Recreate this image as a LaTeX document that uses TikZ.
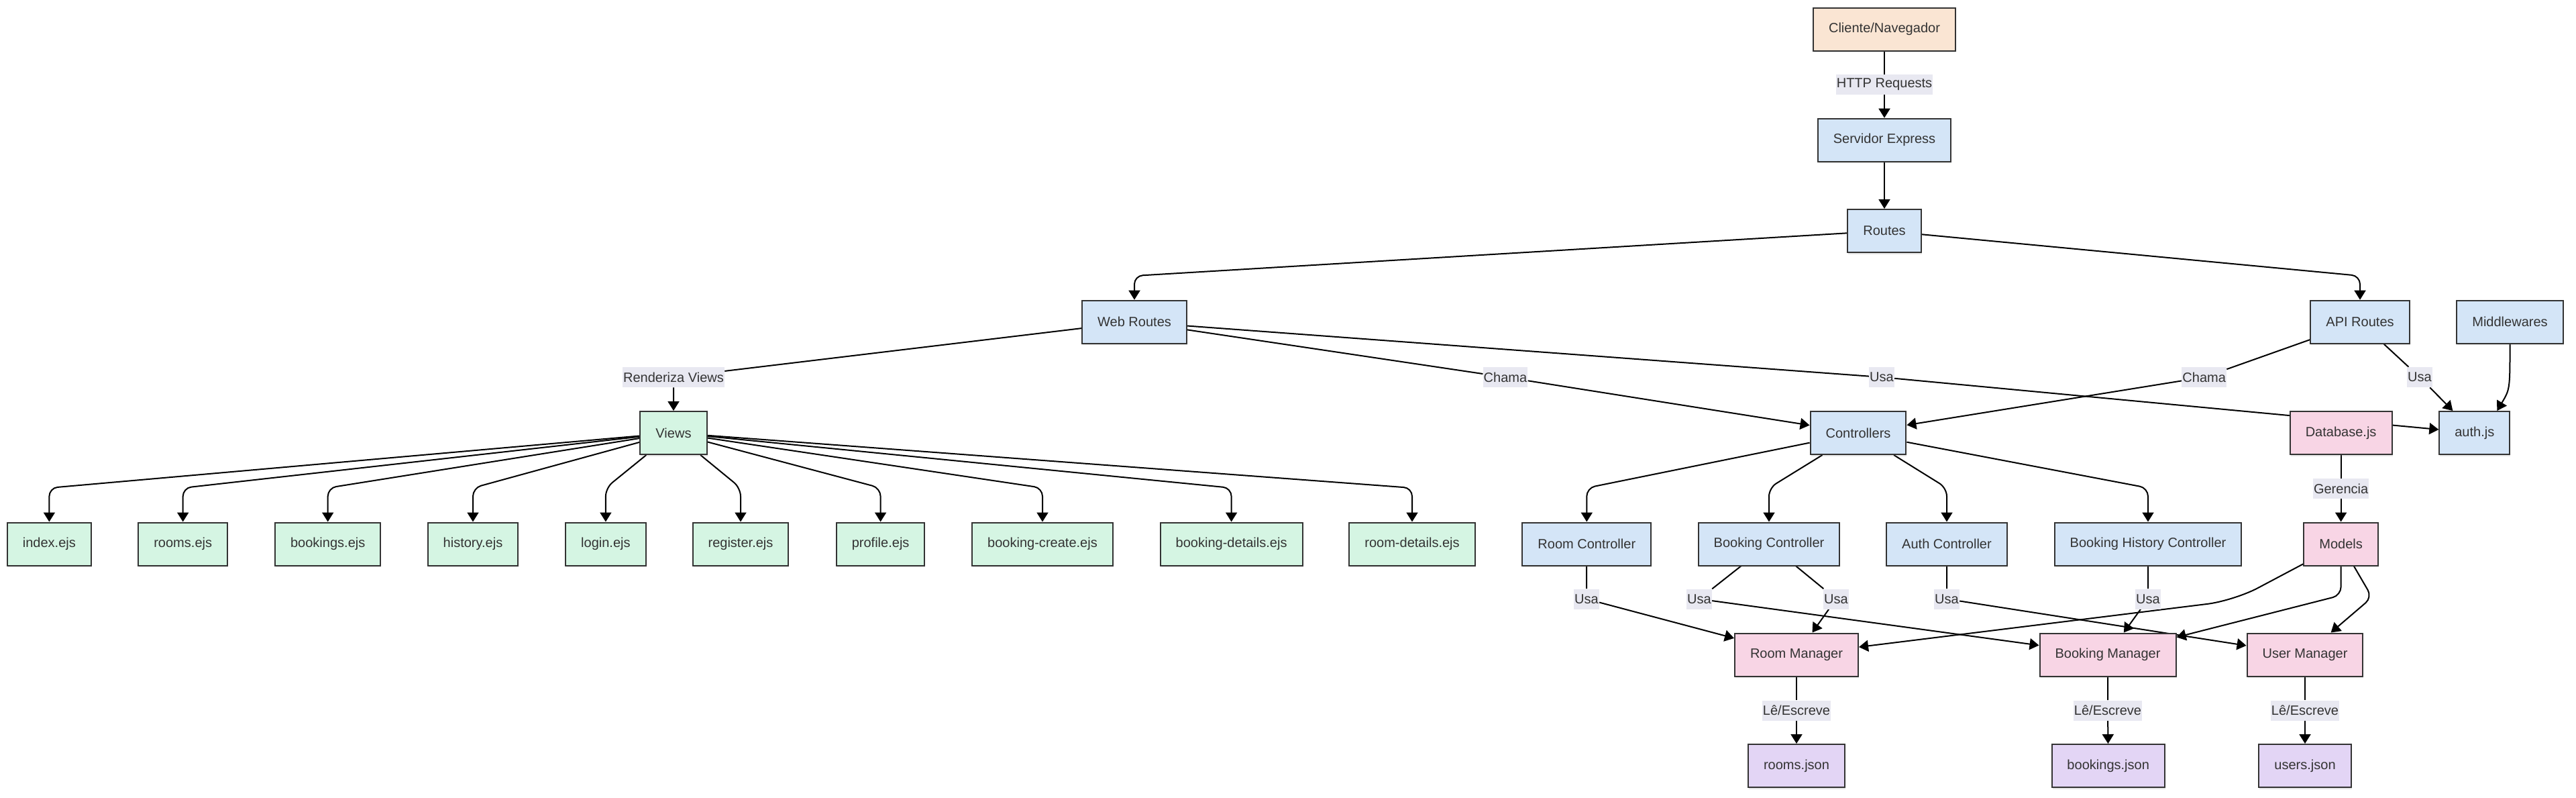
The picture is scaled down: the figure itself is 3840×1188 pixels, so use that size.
\documentclass[tikz,border=0pt]{standalone}
\usepackage{fontspec}
\setmainfont{Liberation Sans}
\usepackage{xcolor}
\usepackage{tikz}
\usetikzlibrary{arrows.meta,backgrounds,shadows}

\definecolor{peachfill}{HTML}{FAE5D3}
\definecolor{bluefill}{HTML}{D4E5F7}
\definecolor{greenfill}{HTML}{D5F5E3}
\definecolor{pinkfill}{HTML}{F8D5E5}
\definecolor{purplefill}{HTML}{E3D5F5}
\definecolor{lblfill}{HTML}{E8E8F1}
\definecolor{linegray}{HTML}{333333}

\newcommand{\diagfont}{\fontsize{11.4pt}{13pt}\selectfont}

\tikzset{
        box/.style={draw=linegray, line width=0.04cm, minimum height=1.28cm, inner xsep=0.46cm,
                font=\diagfont, text=linegray,
                drop shadow={shadow xshift=0.02cm, shadow yshift=-0.05cm, opacity=0.2}},
        peachbox/.style={box, fill=peachfill},
        bluebox/.style={box, fill=bluefill},
        greenbox/.style={box, fill=greenfill},
        pinkbox/.style={box, fill=pinkfill},
        purplebox/.style={box, fill=purplefill},
        lbl/.style={fill=lblfill, minimum height=0.6cm, inner xsep=0.02cm, inner ysep=0pt,
                font=\diagfont, text=linegray},
        arr/.style={line width=0.04cm, -{Triangle[length=0.28cm,width=0.34cm]}},
        elbow/.style={rounded corners=0.25cm}
}

\begin{document}
\begin{tikzpicture}[x=0.02cm,y=-0.02cm]
        \useasboundingbox (0,0) rectangle (3840,1188);

        \node[peachbox] (cliente) at (2809,43.5) {Cliente/Navegador};
        \node[lbl] (lblhttp) at (2809,126) {HTTP Requests};
        \node[bluebox] (servidor) at (2809,208.7) {Servidor Express};
        \node[bluebox] (routes) at (2809,344) {Routes};

        \node[bluebox] (webroutes) at (1691,479.7) {Web Routes};
        \node[bluebox] (apiroutes) at (3518,479.7) {API Routes};
        \node[bluebox] (middlewares) at (3741.5,479.7) {Middlewares};

        \node[lbl] (lblrender) at (1004,562) {Renderiza Views};
        \node[lbl] (lblchamaw) at (2244,562) {Chama};
        \node[lbl] (lblusaw) at (2805,562) {Usa};
        \node[lbl] (lblchamaa) at (3285.7,562) {Chama};
        \node[lbl] (lblusaa) at (3607,562) {Usa};

        \node[greenbox] (views) at (1004,645) {Views};
        \node[bluebox] (controllers) at (2770,645) {Controllers};
        \node[pinkbox] (database) at (3489.6,645) {Database.js};
        \node[bluebox] (authjs) at (3688.8,645) {auth.js};
        \node[lbl] (lblgerencia) at (3489.6,728) {Gerencia};

        \node[greenbox] (index) at (73.4,810.5) {index.ejs};
        \node[greenbox] (rooms) at (272.7,810.5) {rooms.ejs};
        \node[greenbox] (bookings) at (488.7,810.5) {bookings.ejs};
        \node[greenbox] (history) at (705,810.5) {history.ejs};
        \node[greenbox] (login) at (902.9,810.5) {login.ejs};
        \node[greenbox] (register) at (1104,810.5) {register.ejs};
        \node[greenbox] (profile) at (1312.6,810.5) {profile.ejs};
        \node[greenbox] (bookingcreate) at (1554,810.5) {booking-create.ejs};
        \node[greenbox] (bookingdetails) at (1835.6,810.5) {booking-details.ejs};
        \node[greenbox] (roomdetails) at (2105,810.5) {room-details.ejs};

        \node[bluebox] (roomctrl) at (2365.3,810.5) {Room Controller};
        \node[bluebox] (bookingctrl) at (2637,810.5) {Booking Controller};
        \node[bluebox] (authctrl) at (2902,810.5) {Auth Controller};
        \node[bluebox] (historyctrl) at (3202,810.5) {Booking History Controller};
        \node[pinkbox] (models) at (3489.6,810.5) {Models};

        \node[lbl] (lblusarc) at (2365,892.5) {Usa};
        \node[lbl] (lblusabcl) at (2533,892.5) {Usa};
        \node[lbl] (lblusabcr) at (2737,892.5) {Usa};
        \node[lbl] (lblusaac) at (2902,892.5) {Usa};
        \node[lbl] (lblusahc) at (3202,892.5) {Usa};

        \node[pinkbox] (roommgr) at (2678,975.5) {Room Manager};
        \node[pinkbox] (bookingmgr) at (3142,975.5) {Booking Manager};
        \node[pinkbox] (usermgr) at (3436,975.5) {User Manager};

        \node[lbl] (lblleroom) at (2678,1058.5) {Lê/Escreve};
        \node[lbl] (lblleboo) at (3142,1058.5) {Lê/Escreve};
        \node[lbl] (lbleuser) at (3436,1058.5) {Lê/Escreve};

        \node[purplebox] (roomsjson) at (2678,1141) {rooms.json};
        \node[purplebox] (bookingsjson) at (3142.7,1141) {bookings.json};
        \node[purplebox] (usersjson) at (3436,1141) {users.json};

        \begin{scope}[on background layer]
        \draw[arr] (cliente) -- (lblhttp) -- (servidor);
        \draw[arr] (servidor) -- (routes);
        \draw[arr,elbow] (routes) -- (1691,411) -- (webroutes);
        \draw[arr,elbow] (routes) -- (3518,411) -- (apiroutes);

        \draw[arr] (webroutes) -- (lblrender) -- (views);
        \draw[arr] (webroutes) -- (lblchamaw) -- (controllers);
        \draw[arr] (webroutes) -- (lblusaw) -- (authjs);
        \draw[arr] (apiroutes) -- (lblchamaa) -- (controllers);
        \draw[arr] (apiroutes) -- (lblusaa) -- (authjs);
        \draw[arr] (middlewares) .. controls (3741.5,580) .. ([xshift=-0.4cm]authjs.north east);
        \draw[arr] (database) -- (lblgerencia) -- (models);

        \draw[arr,elbow] (views) -- (73.4,727) -- (index);
        \draw[arr,elbow] (views) -- (272.7,727) -- (rooms);
        \draw[arr,elbow] (views) -- (488.7,727) -- (bookings);
        \draw[arr,elbow] (views) -- (705,727) -- (history);
        \draw[arr,elbow] (views) -- (902.9,727) -- (login);
        \draw[arr,elbow] (views) -- (1104,727) -- (register);
        \draw[arr,elbow] (views) -- (1312.6,727) -- (profile);
        \draw[arr,elbow] (views) -- (1554,727) -- (bookingcreate);
        \draw[arr,elbow] (views) -- (1835.6,727) -- (bookingdetails);
        \draw[arr,elbow] (views) -- (2105,727) -- (roomdetails);

        \draw[arr,elbow] (controllers) -- (2365.3,727) -- (roomctrl);
        \draw[arr,elbow] (controllers) -- (2637,727) -- (bookingctrl);
        \draw[arr,elbow] (controllers) -- (2902,727) -- (authctrl);
        \draw[arr,elbow] (controllers) -- (3202,727) -- (historyctrl);

        \draw[arr] (roomctrl) -- (lblusarc) -- (roommgr);
        \draw[arr] (bookingctrl) -- (lblusabcl) -- (bookingmgr);
        \draw[arr] (bookingctrl) -- (lblusabcr) -- (roommgr);
        \draw[arr] (authctrl) -- (lblusaac) -- (usermgr);
        \draw[arr] (historyctrl) -- (lblusahc) -- (bookingmgr);
        \draw[arr,rounded corners=0.8cm] (models) -- (3330,895) -- (roommgr);
        \draw[arr,elbow] (models) -- (3489.6,887) -- (bookingmgr);
        \draw[arr,elbow] (models) -- (3536,890) -- (usermgr);

        \draw[arr] (roommgr) -- (lblleroom) -- (roomsjson);
        \draw[arr] (bookingmgr) -- (lblleboo) -- (bookingsjson);
        \draw[arr] (usermgr) -- (lbleuser) -- (usersjson);
        \end{scope}

\end{tikzpicture}
\end{document}
